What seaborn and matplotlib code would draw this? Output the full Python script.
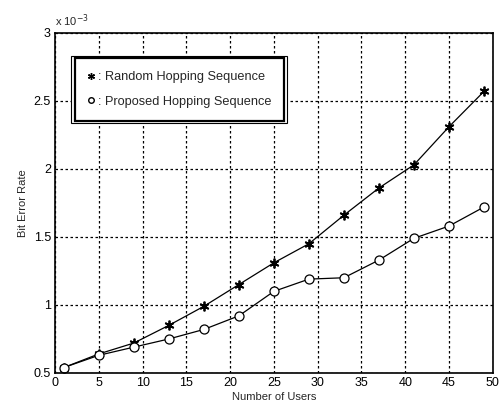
import numpy as np
import pandas as pd
import matplotlib
matplotlib.use('Agg')
import matplotlib.pyplot as plt
from matplotlib.lines import Line2D
from matplotlib.patches import Rectangle
import seaborn as sns

# data (BER in units of 1e-3)
users = [1, 5, 9, 13, 17, 21, 25, 29, 33, 37, 41, 45, 49]
ber_random = [0.54, 0.64, 0.72, 0.85, 0.99, 1.15, 1.31, 1.45, 1.66, 1.86, 2.03, 2.31, 2.57]
ber_proposed = [0.54, 0.63, 0.69, 0.75, 0.82, 0.92, 1.10, 1.19, 1.20, 1.33, 1.49, 1.58, 1.72]
x_ticks = [0, 5, 10, 15, 20, 25, 30, 35, 40, 45, 50]
y_ticks = [0.5, 1, 1.5, 2, 2.5, 3]
y_tick_labels = ['0.5', '1', '1.5', '2', '2.5', '3']

sns.set_style('white')
plt.rcParams['font.family'] = ['Liberation Sans', 'DejaVu Sans']

df = pd.DataFrame({'users': users, 'random': ber_random, 'proposed': ber_proposed})

fig = plt.figure(figsize=(5.02, 4.11), dpi=100)
ax = fig.add_axes([0.1096, 0.0925, 0.872, 0.8275])

# the two curves
sns.lineplot(data=df, x='users', y='random', ax=ax, color='black', lw=0.9,
             marker=(6, 2, 0), markersize=7, markeredgecolor='black',
             markeredgewidth=1.3)
sns.lineplot(data=df, x='users', y='proposed', ax=ax, color='black', lw=0.9,
             marker='o', markersize=6.5, markeredgecolor='black', markerfacecolor='white',
             markeredgewidth=0.9)

# matlab style axes
ax.set_xlim(0, 50)
ax.set_ylim(0.5, 3)
ax.set_xticks(x_ticks)
ax.set_yticks(y_ticks)
ax.set_yticklabels(y_tick_labels)
ax.tick_params(direction='in', length=3, labelsize=9, pad=3, colors='black')
ax.grid(True, linestyle=(0, (2, 2)), color='black', lw=0.9)
for s in ax.spines.values():
    s.set_color('black')
    s.set_linewidth(1.2)
ax.set_xlabel('Number of Users', fontsize=8, labelpad=2)
ax.set_ylabel('Bit Error Rate', fontsize=8, labelpad=4)
ax.text(0.0, 1.01, r'x 10$^{-3}$', transform=ax.transAxes, fontsize=8, va='bottom', ha='left')

# legend with double frame
handles = [Line2D([], [], ls='none', marker=(6, 2, 0), ms=5, mew=1, color='black'),
           Line2D([], [], ls='none', marker='o', ms=4, mfc='white', mec='black')]
labels = [': Random Hopping Sequence', ': Proposed Hopping Sequence']
leg = ax.legend(handles, labels, loc='upper left', bbox_to_anchor=(0.045, 0.925),
                fontsize=9.2, handlelength=0.5, handletextpad=0.3, borderpad=1.0,
                labelspacing=1.0, fancybox=False, framealpha=1, borderaxespad=0)
leg.get_frame().set_edgecolor('black')
leg.get_frame().set_linewidth(1.6)
fig.canvas.draw()
bb = leg.get_window_extent().transformed(ax.transAxes.inverted())
pad = 0.008
ax.add_patch(Rectangle((bb.x0 - pad, bb.y0 - pad), bb.width + 2 * pad, bb.height + 2 * pad,
                       transform=ax.transAxes, fill=True, facecolor='white', edgecolor='black',
                       lw=0.8, zorder=4.9))
leg.set_zorder(5)

fig.savefig('out.png', dpi=100)
